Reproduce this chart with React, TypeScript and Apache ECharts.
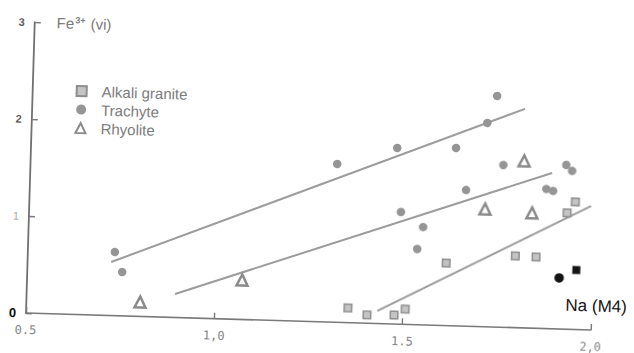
import { useEffect, useRef } from 'react';
import * as echarts from 'echarts';

// Fe3+ (vi) vs Na (M4) in amphiboles
const xTickLabels: Record<string, string> = { '0.5': '0.5', '1': '1,0', '1.5': '1.5', '2': '2,0' };
const yTickLabels = ['0', '1', '2', '3'];

const alkaliGranite: number[][] = [
  [1.354, 0.151], [1.405, 0.085], [1.477, 0.093], [1.506, 0.158],
  [1.611, 0.645], [1.794, 0.739], [1.849, 0.735], [1.928, 1.198], [1.949, 1.314],
];

const trachyte: number[][] = [
  [0.731, 0.656], [0.752, 0.452], [1.314, 1.632], [1.472, 1.816], [1.628, 1.834],
  [1.733, 2.383], [1.709, 2.101], [1.755, 1.673], [1.922, 1.693], [1.938, 1.633],
  [1.871, 1.439], [1.889, 1.421], [1.658, 1.404], [1.487, 1.157], [1.547, 1.009],
  [1.533, 0.781],
];

const rhyolite: number[][] = [
  [0.802, 0.149], [1.071, 0.407], [1.81, 1.721], [1.71, 1.214], [1.835, 1.188],
];

const blackCircles: number[][] = [[1.912, 0.526]];
const blackSquares: number[][] = [[1.957, 0.613]];

const trendUpper: number[][] = [[0.722, 0.552], [1.808, 2.258]];
const trendMiddle: number[][] = [[0.894, 0.242], [1.885, 1.606]];
const trendLower: number[][] = [[1.432, 0.129], [1.991, 1.278]];

const trendStyle = { color: '#9c9c9c', width: 2 };

export default function App() {
  const ref = useRef<HTMLDivElement>(null);

  useEffect(() => {
    if (!ref.current) return;
    const chart = echarts.init(ref.current, null, { renderer: 'svg' });
    const trend = (name: string, data: number[][]) => ({
      name,
      type: 'line',
      data,
      showSymbol: false,
      silent: true,
      lineStyle: trendStyle,
      z: 1,
    });
    chart.setOption({
      animation: false,
      backgroundColor: '#ffffff',
      grid: { left: 26, top: 22, width: 565, height: 291 },
      xAxis: {
        type: 'value',
        min: 0.5,
        max: 2.0,
        interval: 0.5,
        splitLine: { show: false },
        axisLine: { show: true, onZero: false, lineStyle: { color: '#7a7a7a', width: 1.6 } },
        axisTick: { show: true, inside: true, length: 6, lineStyle: { color: '#7a7a7a', width: 1.4 } },
        axisLabel: {
          margin: 11,
          color: '#858585',
          fontFamily: 'DejaVu Sans Mono',
          fontSize: 12,
          formatter: (v: number) => xTickLabels[String(v)] ?? '',
        },
      },
      yAxis: {
        type: 'value',
        min: 0,
        max: 3,
        interval: 1,
        splitLine: { show: false },
        axisLine: { show: true, onZero: false, lineStyle: { color: '#707070', width: 1.8 } },
        axisTick: { show: true, inside: true, length: 6, lineStyle: { color: '#7a7a7a', width: 1.4 } },
        axisLabel: {
          margin: 10,
          fontFamily: 'Liberation Sans',
          formatter: (v: number) => {
            const t = yTickLabels[Math.round(v)];
            return v === 0 ? `{z|${t}}` : v === 1 ? `{l|${t}}` : `{d|${t}}`;
          },
          rich: {
            z: { color: '#111111', fontWeight: 'bold', fontSize: 13, fontFamily: 'Liberation Sans' },
            l: { color: '#aaaaaa', fontSize: 11, fontFamily: 'Liberation Sans' },
            d: { color: '#5a5a5a', fontWeight: 'bold', fontSize: 11, fontFamily: 'Liberation Sans' },
          },
        },
      },
      legend: {
        data: ['Alkali granite', 'Trachyte', 'Rhyolite'],
        orient: 'vertical',
        left: 64,
        top: 77,
        itemWidth: 10,
        itemHeight: 10,
        itemGap: 3.5,
        textStyle: {
          color: '#7c7c7c',
          fontFamily: 'Liberation Sans',
          fontSize: 15,
          padding: [0, 0, 0, 10],
        },
      },
      graphic: [
        {
          type: 'text',
          x: 48,
          y: 22,
          style: {
            text: '{b|Fe}{s|3+}{b| (vi)}',
            verticalAlign: 'middle',
            rich: {
              b: { fontSize: 15, fill: '#7a7a7a', fontFamily: 'Liberation Sans' },
              s: { fontSize: 9, fontWeight: 'bold', fill: '#7a7a7a', fontFamily: 'Liberation Sans', verticalAlign: 'top', padding: [0, 1, 6, 1] },
            },
          },
        },
        {
          type: 'text',
          x: 565,
          y: 289,
          style: {
            text: 'Na (M4)',
            fill: '#151515',
            fontSize: 17,
            fontFamily: 'Liberation Sans',
            verticalAlign: 'middle',
          },
        },
      ],
      series: [
        trend('trend upper', trendUpper),
        trend('trend middle', trendMiddle),
        trend('trend lower', trendLower),
        {
          name: 'Alkali granite',
          type: 'scatter',
          data: alkaliGranite,
          symbol: 'rect',
          symbolSize: 7.5,
          itemStyle: { color: '#c4c4c4', borderColor: '#8e8e8e', borderWidth: 1.5, opacity: 1 },
          z: 3,
        },
        {
          name: 'Trachyte',
          type: 'scatter',
          data: trachyte,
          symbol: 'circle',
          symbolSize: 8.5,
          itemStyle: { color: '#959595', opacity: 1 },
          z: 3,
        },
        {
          name: 'Rhyolite',
          type: 'scatter',
          data: rhyolite,
          symbol: 'triangle',
          symbolSize: 11,
          itemStyle: { color: '#ffffff', borderColor: '#8a8a8a', borderWidth: 2.5, opacity: 1 },
          z: 3,
        },
        {
          name: 'black circle',
          type: 'scatter',
          data: blackCircles,
          symbol: 'circle',
          symbolSize: 9.5,
          itemStyle: { color: '#141414', opacity: 1 },
          z: 3,
        },
        {
          name: 'black square',
          type: 'scatter',
          data: blackSquares,
          symbol: 'rect',
          symbolSize: 8,
          itemStyle: { color: '#141414', opacity: 1 },
          z: 3,
        },
      ],
    });
    return () => chart.dispose();
  }, []);

  return (
    <div
      style={{
        position: 'fixed',
        left: 0,
        top: 0,
        width: 634,
        height: 353,
        background: '#ffffff',
      }}
    >
      <div
        ref={ref}
        style={{
          width: 634,
          height: 353,
          transform: 'rotate(1.72deg)',
          transformOrigin: '26px 313px',
        }}
      />
    </div>
  );
}
